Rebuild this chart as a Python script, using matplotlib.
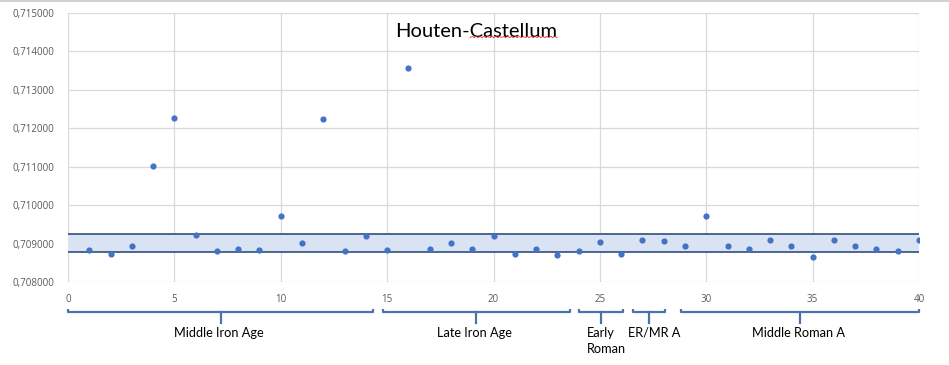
import numpy as np
import matplotlib.pyplot as plt
import matplotlib.transforms as mtransforms

# sample number and 87Sr/86Sr value
sample = np.arange(1, 41)
ratio = [0.708824, 0.708737, 0.708945, 0.711027, 0.712276, 0.709232, 0.708798, 0.708867,
         0.708824, 0.709726, 0.709006, 0.712250, 0.708798, 0.709206, 0.708824, 0.713577,
         0.708867, 0.709006, 0.708867, 0.709206, 0.708737, 0.708867, 0.708711, 0.708798,
         0.709032, 0.708737, 0.709101, 0.709075, 0.708945, 0.709726, 0.708945, 0.708867,
         0.709101, 0.708945, 0.708659, 0.709101, 0.708945, 0.708867, 0.708798, 0.709101]

# local range band
band_low = 0.70878
band_high = 0.70925

# periods under the x axis
periods = ['Middle Iron Age', 'Late Iron Age', 'Early\nRoman', 'ER/MR A', 'Middle Roman A']
period_start = [0.0, 14.8, 24.0, 26.55, 28.8]
period_end = [14.35, 23.6, 26.1, 28.05, 40.0]
period_mid = [7.2, 19.2, 25.05, 27.3, 34.4]
label_x = [7.1, 19.1, 24.4, 27.55, 34.35]

fig = plt.figure(figsize=(9.49, 3.65), dpi=100)
ax = fig.add_axes([68/949, 1-282/365, (919-68)/949, (282-13)/365])

ax.axhspan(band_low, band_high, xmin=0, xmax=1, facecolor='#dae3f3', edgecolor='none', zorder=1)
ax.axhline(band_low, color='#2f4f7f', lw=1.2, zorder=2)
ax.axhline(band_high, color='#2f4f7f', lw=1.2, zorder=2)

ax.scatter(sample, ratio, s=20, color='#4472c4', zorder=3, linewidths=0)

ax.set_xlim(0, 40)
ax.set_ylim(0.708, 0.715)
ax.set_xticks(np.arange(0, 41, 5))
ax.set_yticks(np.arange(0.708, 0.71501, 0.001))
ax.set_yticklabels([f'{v:.6f}'.replace('.', ',') for v in np.arange(0.708, 0.71501, 0.001)])
ax.grid(True, color='#d9d9d9', lw=0.9, zorder=0)
ax.set_axisbelow(True)
for s in ax.spines.values():
    s.set_visible(False)
ax.tick_params(length=0, labelsize=7, labelcolor='#595959', pad=9)
ax.tick_params(axis='y', pad=10)
for lab in ax.get_xticklabels() + ax.get_yticklabels():
    lab.set_family('Open Sans')

ax.text(0.48, 0.93, 'Houten-Castellum', transform=ax.transAxes, ha='center', va='center',
        fontsize=14.5, family='Lato', color='black')
# spell-check squiggle under "Castellum"
xs = np.linspace(470, 557, 60)
ys = 365 - 37 + 0.8 * np.sin(xs * 1.6)
fig.add_artist(plt.Line2D(xs / 949, ys / 365, color='#e03030', lw=0.6))
fig.add_artist(plt.Line2D([0, 1], [0.997, 0.997], color='#c8c8c8', lw=1.2))

trans = mtransforms.blended_transform_factory(ax.transData, ax.transAxes)
yb = -0.1115
for name, x0, x1, xm, xl in zip(periods, period_start, period_end, period_mid, label_x):
    ax.plot([x0, x0, x1, x1], [yb + 0.01, yb, yb, yb + 0.01], color='#4a72b0', lw=1.6,
            transform=trans, clip_on=False, solid_capstyle='butt')
    ax.plot([xm, xm], [yb, yb - 0.04], color='#4a72b0', lw=1.6, transform=trans, clip_on=False)
    ax.text(xl, yb - 0.055, name, transform=trans, ha='left' if '\n' in name else 'center',
            va='top', fontsize=9.2, family='Lato', linespacing=1.4)

fig.savefig('out.png', dpi=100)
